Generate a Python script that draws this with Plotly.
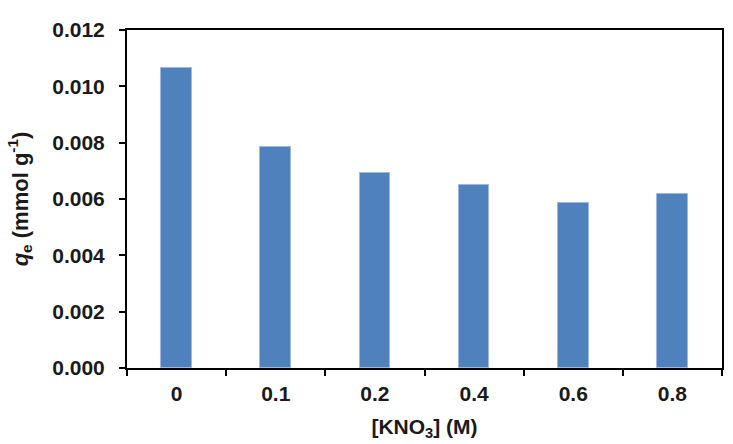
import plotly.graph_objects as go

categories = ["0", "0.1", "0.2", "0.4", "0.6", "0.8"]
qe_values = [0.01065, 0.00784, 0.00692, 0.00650, 0.00586, 0.00617]
y_ticks = [0.000, 0.002, 0.004, 0.006, 0.008, 0.010, 0.012]

fig = go.Figure(go.Bar(
    x=categories,
    y=qe_values,
    width=0.31,
    marker=dict(color="#4F81BD", line=dict(color="#9DB9DD", width=1)),
))

font_family = "Liberation Sans, Arial, sans-serif"

fig.update_layout(
    width=733, height=444,
    margin=dict(l=127, r=9, t=30, b=76),
    paper_bgcolor="white", plot_bgcolor="white",
    font=dict(family=font_family, size=21, color="#1a1a1a", weight="bold"),
    showlegend=False,
    bargap=0,
)

fig.update_xaxes(
    type="category",
    showline=True, linecolor="black", linewidth=2, mirror=True,
    ticks="outside", tickson="boundaries", ticklen=6, tickwidth=2, tickcolor="black",
    tickfont=dict(size=21, weight="bold"),
    ticklabelstandoff=6,
    showgrid=False,
    title=dict(text="[KNO<sub>3</sub>] (M)", font=dict(size=21, weight="bold"), standoff=15),
)

fig.update_yaxes(
    range=[0, 0.012],
    tickvals=y_ticks,
    tickformat=".3f",
    showline=True, linecolor="black", linewidth=2, mirror=True,
    ticks="outside", ticklen=6, tickwidth=2, tickcolor="black",
    tickfont=dict(size=21, weight="bold"),
    ticklabelstandoff=10,
    showgrid=False, zeroline=False,
    title=dict(text="<i>q</i><sub>e</sub> (mmol g<sup>-1</sup>)", font=dict(size=22, weight="bold"), standoff=18),
)

fig.write_html("out.html")
